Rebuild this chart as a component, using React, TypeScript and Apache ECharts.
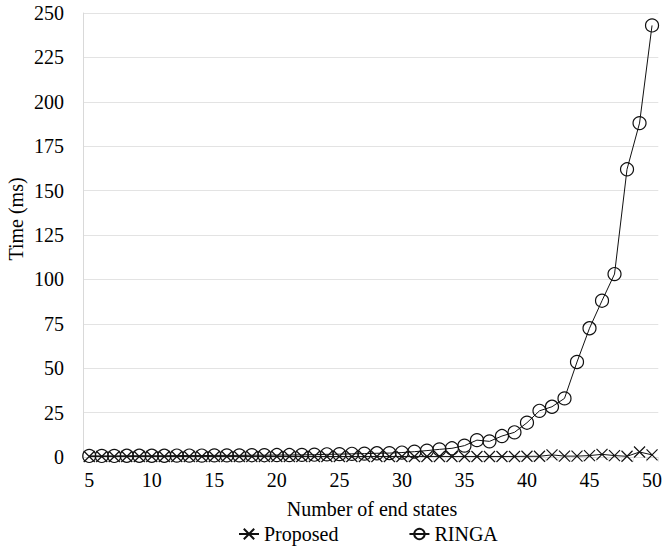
import React, { useEffect, useRef } from "react";
import * as echarts from "echarts";

const categories: string[] = [];
for (let i = 5; i <= 50; i++) categories.push(String(i));

const proposedValues = [
  0.3, 0.3, 0.3, 0.3, 0.3, 0.3, 0.3, 0.3, 0.3, 0.3,
  0.3, 0.3, 0.3, 0.3, 0.3, 0.3, 0.3, 0.3, 0.3, 0.3,
  0.3, 0.3, 0.3, 0.3, 0.3, 0.3, 0.3, 0.3, 0.3, 0.3,
  0.3, 0.3, 0.3, 0.3, 0.3, 0.4, 0.4, 1.2, 0.5, 0.5,
  0.8, 1.5, 0.8, 0.4, 2.8, 1.2,
];

const ringaValues = [
  0.6, 0.6, 0.6, 0.7, 0.7, 0.7, 0.7, 0.8, 0.8, 0.8,
  0.9, 0.9, 0.9, 1.0, 1.0, 1.1, 1.1, 1.2, 1.3, 1.5,
  1.6, 1.8, 1.9, 2.1, 2.2, 2.5, 3.0, 3.6, 4.3, 4.9,
  6.4, 9.5, 8.8, 11.8, 13.9, 19.3, 26, 28.3, 33, 53.5,
  72.5, 88, 103, 162, 188, 243,
];

const yTicks = { min: 0, max: 250, interval: 25 };
const seriesNames = ["Proposed", "RINGA"];

const FONT = "'Liberation Serif', 'Times New Roman', serif";
const FS = 20;

export default function App() {
  const ref = useRef<HTMLDivElement>(null);
  useEffect(() => {
    if (!ref.current) return;
    const chart = echarts.init(ref.current, null, { renderer: "svg" });
    chart.setOption({
      animation: false,
      backgroundColor: "#ffffff",
      grid: { left: 83, right: 3, top: 13, bottom: 91, containLabel: false },
      legend: {
        data: seriesNames,
        left: 238,
        top: 524,
        padding: 0,
        itemWidth: 20,
        itemHeight: 13,
        itemGap: 70,
        textStyle: { fontFamily: FONT, fontSize: FS, color: "#000" },
      },
      xAxis: {
        type: "category",
        data: categories,
        boundaryGap: true,
        axisLine: { show: true, lineStyle: { color: "#d9d9d9", width: 1 } },
        axisTick: { show: true, interval: 0, length: 5, lineStyle: { color: "#e6e6e6" } },
        axisLabel: {
          interval: 4,
          margin: 13,
          fontFamily: FONT,
          fontSize: FS,
          color: "#000",
        },
        splitLine: { show: false },
      },
      yAxis: {
        type: "value",
        min: yTicks.min,
        max: yTicks.max,
        interval: yTicks.interval,
        axisLine: { show: true, lineStyle: { color: "#d9d9d9", width: 1 } },
        axisTick: { show: false },
        axisLabel: { margin: 19, fontFamily: FONT, fontSize: FS, color: "#000" },
        splitLine: { show: true, lineStyle: { color: "#e3e3e3", width: 1 } },
      },
      graphic: [
        {
          type: "text",
          x: 372,
          y: 509,
          style: {
            text: "Number of end states",
            font: `${FS}px ${FONT}`,
            fill: "#000",
            textAlign: "center",
            textVerticalAlign: "middle",
          },
        },
        {
          type: "text",
          x: 16,
          y: 219,
          rotation: Math.PI / 2,
          style: {
            text: "Time (ms)",
            font: `${FS}px ${FONT}`,
            fill: "#000",
            textAlign: "center",
            textVerticalAlign: "middle",
          },
        },
      ],
      series: [
        {
          name: seriesNames[0],
          type: "line",
          data: proposedValues,
          symbol: "path://M0,0L10,10M10,0L0,10",
          symbolSize: 11,
          showAllSymbol: true,
          itemStyle: { color: "none", borderColor: "#111", borderWidth: 1.2 },
          lineStyle: { color: "#111", width: 1 },
          z: 3,
        },
        {
          name: seriesNames[1],
          type: "line",
          data: ringaValues,
          symbol: "circle",
          symbolSize: 13,
          showAllSymbol: true,
          itemStyle: { color: "none", borderColor: "#111", borderWidth: 1.2 },
          lineStyle: { color: "#111", width: 1 },
          z: 4,
        },
      ],
    });
    return () => chart.dispose();
  }, []);
  return <div ref={ref} style={{ width: 665, height: 548, position: "absolute", left: 0, top: 0 }} />;
}
